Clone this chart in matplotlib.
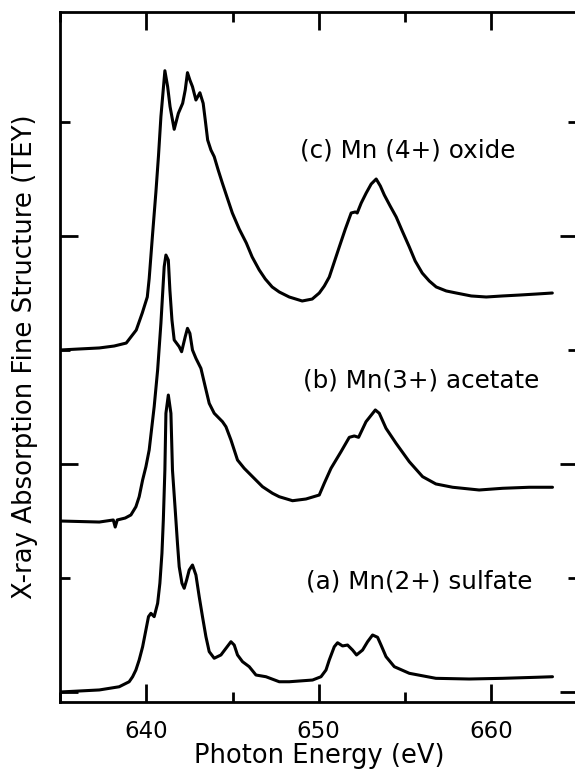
import matplotlib
matplotlib.use("Agg")
import matplotlib.pyplot as plt
from matplotlib.ticker import MultipleLocator

# L-edge spectra, stacked with a vertical offset (photon energy in eV, intensity in offset units)
oxide_energy = [635.0, 636.12, 637.28, 638.14, 638.84, 639.42, 639.77, 640.06, 640.17,
                640.36, 640.56, 640.71, 640.85, 641.08, 641.24, 641.38, 641.62, 641.86,
                642.11, 642.26, 642.39, 642.53, 642.68, 642.88, 643.11, 643.30, 643.42,
                643.56, 643.75, 643.94, 644.17, 644.41, 644.70, 644.99, 645.39, 645.80,
                646.14, 646.55, 646.90, 647.30, 647.71, 648.29, 649.04, 649.62, 650.03,
                650.32, 650.61, 650.90, 651.19, 651.54, 651.88, 652.12, 652.23, 652.46,
                652.75, 653.04, 653.33, 653.57, 653.80, 654.14, 654.49, 654.84, 655.25,
                655.59, 656.00, 656.41, 656.81, 657.39, 657.97, 658.84, 659.71, 660.64,
                661.62, 662.61, 663.54]
oxide_signal = [3.000, 3.009, 3.018, 3.035, 3.061, 3.175, 3.325, 3.465, 3.626,
                4.003, 4.386, 4.705, 5.047, 5.450, 5.310, 5.135, 4.936, 5.076,
                5.164, 5.281, 5.433, 5.368, 5.310, 5.193, 5.257, 5.164, 5.018,
                4.842, 4.754, 4.696, 4.579, 4.465, 4.333, 4.202, 4.061, 3.939,
                3.816, 3.702, 3.623, 3.553, 3.509, 3.465, 3.430, 3.447, 3.500,
                3.561, 3.640, 3.772, 3.904, 4.061, 4.202, 4.211, 4.202, 4.289,
                4.377, 4.456, 4.500, 4.439, 4.360, 4.263, 4.167, 4.044, 3.904,
                3.781, 3.675, 3.605, 3.553, 3.518, 3.500, 3.474, 3.465, 3.474,
                3.482, 3.491, 3.500]

acetate_energy = [635.0, 637.28, 638.09, 638.20, 638.32, 638.78, 639.11, 639.40, 639.59,
                  639.79, 639.98, 640.17, 640.46, 640.66, 640.85, 641.04, 641.14, 641.28,
                  641.37, 641.49, 641.62, 641.91, 642.05, 642.26, 642.39, 642.53, 642.68,
                  642.88, 643.17, 643.42, 643.65, 643.94, 644.42, 644.62, 644.91, 645.29,
                  645.68, 646.16, 646.74, 647.32, 647.71, 648.48, 649.26, 650.03, 650.32,
                  650.71, 651.29, 651.77, 652.06, 652.31, 652.74, 653.28, 653.51, 653.90,
                  654.48, 655.25, 656.02, 656.79, 657.76, 659.30, 660.66, 662.20, 663.55]
acetate_signal = [1.500, 1.491, 1.509, 1.447, 1.509, 1.526, 1.553, 1.625, 1.713,
                  1.860, 1.976, 2.123, 2.503, 2.825, 3.234, 3.731, 3.833, 3.789,
                  3.526, 3.263, 3.088, 3.029, 2.985, 3.117, 3.190, 3.146, 3.000,
                  2.927, 2.839, 2.678, 2.532, 2.445, 2.371, 2.327, 2.211, 2.035,
                  1.962, 1.889, 1.801, 1.743, 1.713, 1.678, 1.693, 1.728, 1.831,
                  1.962, 2.108, 2.234, 2.246, 2.234, 2.371, 2.474, 2.445, 2.313,
                  2.182, 2.020, 1.889, 1.825, 1.796, 1.772, 1.787, 1.796, 1.796]

sulfate_energy = [635.0, 637.28, 638.43, 639.01, 639.21, 639.40, 639.59, 639.79, 639.98,
                  640.13, 640.27, 640.46, 640.66, 640.79, 640.91, 640.99, 641.08, 641.14,
                  641.28, 641.43, 641.52, 641.68, 641.81, 641.91, 642.07, 642.20, 642.34,
                  642.49, 642.68, 642.88, 643.07, 643.26, 643.46, 643.65, 643.94, 644.33,
                  644.62, 644.91, 645.10, 645.29, 645.58, 645.97, 646.36, 646.94, 647.71,
                  648.29, 649.64, 650.13, 650.42, 650.61, 650.90, 651.09, 651.38, 651.67,
                  651.96, 652.19, 652.54, 652.83, 653.12, 653.41, 653.61, 653.90, 654.38,
                  655.25, 656.79, 658.72, 660.66, 662.59, 663.55]
sulfate_signal = [0.000, 0.018, 0.046, 0.090, 0.134, 0.193, 0.281, 0.397, 0.544,
                  0.661, 0.690, 0.661, 0.778, 0.954, 1.217, 1.509, 1.947, 2.445,
                  2.605, 2.445, 1.947, 1.596, 1.304, 1.099, 0.954, 0.910, 0.982,
                  1.070, 1.114, 1.026, 0.836, 0.661, 0.485, 0.354, 0.296, 0.325,
                  0.383, 0.441, 0.412, 0.325, 0.266, 0.222, 0.149, 0.134, 0.090,
                  0.090, 0.105, 0.134, 0.193, 0.281, 0.397, 0.432, 0.404, 0.412,
                  0.368, 0.325, 0.368, 0.441, 0.500, 0.480, 0.412, 0.310, 0.222,
                  0.164, 0.120, 0.114, 0.120, 0.129, 0.134]

labels = ["(a) Mn(2+) sulfate", "(b) Mn(3+) acetate", "(c) Mn (4+) oxide"]
label_energy = [655.83, 655.91, 655.16]
label_height = [0.904, 2.675, 4.693]

fig = plt.figure(figsize=(5.75, 7.7), dpi=100)
ax = fig.add_axes([60 / 575, 68 / 770, 517.5 / 575, 690 / 770])

for energy, signal in [(sulfate_energy, sulfate_signal),
                       (acetate_energy, acetate_signal),
                       (oxide_energy, oxide_signal)]:
    ax.plot(energy, signal, color="black", lw=2.2,
            solid_joinstyle="round", solid_capstyle="round")

for text, ex, ey in zip(labels, label_energy, label_height):
    ax.text(ex, ey, text, ha="center", va="baseline", fontsize=17.7)

ax.set_xlim(635, 665)
ax.set_ylim(-0.0877, 5.965)

ax.xaxis.set_major_locator(MultipleLocator(10))
ax.xaxis.set_minor_locator(MultipleLocator(5))
ax.yaxis.set_major_locator(MultipleLocator(2))
ax.yaxis.set_minor_locator(MultipleLocator(1))
ax.tick_params(which="both", direction="in", top=True, right=True, width=2)
ax.tick_params(which="major", length=13, labelsize=16.5, pad=13)
ax.tick_params(which="minor", length=7)
ax.tick_params(axis="y", labelleft=False)
for spine in ax.spines.values():
    spine.set_linewidth(2)

ax.set_xlabel("Photon Energy (eV)", fontsize=18.5, labelpad=0)
ax.set_ylabel("X-ray Absorption Fine Structure (TEY)", fontsize=18.7)
ax.yaxis.set_label_coords(-(60 - 38) / 517.5, 0.5)

fig.savefig("out.png", dpi=100)
